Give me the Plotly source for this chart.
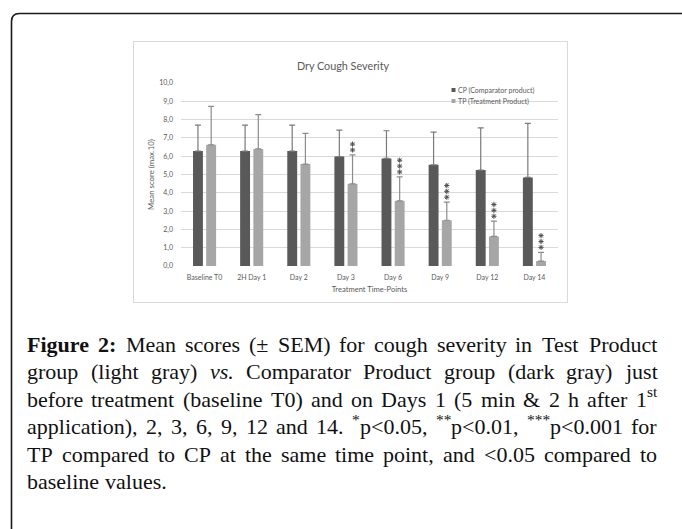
import plotly.graph_objects as go

# ---------------- data ----------------
categories = ["Baseline T0", "2H Day 1", "Day 2", "Day 3", "Day 6", "Day 9", "Day 12", "Day 14"]
cp_mean = [6.28, 6.28, 6.28, 5.98, 5.88, 5.53, 5.24, 4.84]
cp_sem = [1.42, 1.42, 1.42, 1.45, 1.51, 1.79, 2.31, 2.95]
tp_mean = [6.62, 6.40, 5.57, 4.49, 3.56, 2.50, 1.62, 0.27]
tp_sem = [2.10, 1.87, 1.68, 1.58, 1.31, 0.99, 0.83, 0.48]
tp_stars = [0, 0, 0, 2, 3, 3, 3, 3]
y_ticks = [0, 1, 2, 3, 4, 5, 6, 7, 8, 9, 10]
cp_name = "CP (Comparator product)"
tp_name = "TP (Treatment Product)"
chart_title = "Dry Cough Severity"
y_title = "Mean score (max.10)"
x_title = "Treatment Time-Points"

# ---------------- layout geometry (pixels) ----------------
W, H = 682, 529
L, R, T, B = 181, 124, 83, 263
PW, PH = W - L - R, H - T - B


def X(px):
    return (px - L) / PW


def Y(py):
    return (H - B - py) / PH


CP_COL, TP_COL = "#595959", "#a6a6a6"
TXT = "#595959"
CH_FONT = "Lato, 'Open Sans', sans-serif"

bar_w = 0.21
gap = 0.07
idx = list(range(len(categories)))

fig = go.Figure()
fig.add_trace(go.Bar(
    x=idx, y=cp_mean, name=cp_name, width=bar_w, offset=-gap / 2 - bar_w,
    marker=dict(color=CP_COL, line=dict(width=0)),
    error_y=dict(type="data", array=cp_sem, arrayminus=[0] * len(cp_sem), symmetric=False,
                 color="#7a7a7a", thickness=1.2, width=3),
    showlegend=False,
))
fig.add_trace(go.Bar(
    x=idx, y=tp_mean, name=tp_name, width=bar_w, offset=gap / 2,
    marker=dict(color=TP_COL, line=dict(width=0)),
    error_y=dict(type="data", array=tp_sem, arrayminus=[0] * len(tp_sem), symmetric=False,
                 color="#8c8c8c", thickness=1.2, width=3),
    showlegend=False,
))

# significance asterisks above TP error bars
sx, sy = [], []
tp_center = gap / 2 + bar_w / 2
for i, n in enumerate(tp_stars):
    top = tp_mean[i] + tp_sem[i]
    for k in range(n):
        sx.append(i + tp_center)
        sy.append(top + 0.27 + 0.32 * k)
fig.add_trace(go.Scatter(
    x=sx, y=sy, mode="markers", showlegend=False, hoverinfo="skip",
    marker=dict(symbol="asterisk-open", size=4.3, color="#505050",
                line=dict(color="#505050", width=1)),
))

shapes = []
annotations = []

# outer rounded frame (page box)
r = 8
x0, y0 = 11.5, 13.5
path = (f"M {X(x0)},{Y(H + 20)} L {X(x0)},{Y(y0 + r)} "
        f"Q {X(x0)},{Y(y0)} {X(x0 + r)},{Y(y0)} L {X(W + 20)},{Y(y0)}")
shapes.append(dict(type="path", xref="paper", yref="paper", path=path,
                   line=dict(color="#1a1a1a", width=1.6)))

# chart box
shapes.append(dict(type="rect", xref="paper", yref="paper",
                   x0=X(133.5), x1=X(567.5), y0=Y(302.5), y1=Y(41.5),
                   line=dict(color="#d9d9d9", width=1)))

# custom legend
for j, (nm, col) in enumerate([(cp_name, CP_COL), (tp_name, TP_COL)]):
    cy = 90 + 11 * j
    shapes.append(dict(type="rect", xref="paper", yref="paper",
                       x0=X(451.5), x1=X(455.5), y0=Y(cy + 2), y1=Y(cy - 2),
                       fillcolor=col, line=dict(width=0)))
    annotations.append(dict(xref="paper", yref="paper", x=X(456), y=Y(cy), text=nm,
                            xanchor="left", yanchor="middle", showarrow=False,
                            font=dict(family=CH_FONT, size=7, color=TXT)))

# ---------------- caption (justified) ----------------
REG = {' ': 250, '(': 333, ')': 333, '*': 500, ',': 250, '.': 250, ':': 278, '<': 564, '&': 778,
       '±': 564, 'A': 722, 'C': 667, 'D': 722, 'E': 611, 'F': 556, 'M': 889, 'P': 556, 'S': 556,
       'T': 611, 'a': 444, 'b': 500, 'c': 444, 'd': 500, 'e': 444, 'f': 333, 'g': 500, 'h': 500,
       'i': 278, 'j': 278, 'k': 500, 'l': 278, 'm': 778, 'n': 500, 'o': 500, 'p': 500, 'q': 500,
       'r': 333, 's': 389, 't': 278, 'u': 500, 'v': 500, 'w': 722, 'x': 500, 'y': 500, 'z': 444}
for d in "0123456789":
    REG[d] = 500
BOLD = dict(REG)
BOLD.update({'F': 611, 'i': 278, 'g': 500, 'u': 556, 'r': 444, 'e': 444, '2': 500, ':': 333})
ITAL = dict(REG)
ITAL.update({'v': 444, 's': 389, '.': 250})

caption_lines = [
    [[("Figure", "b")], [("2:", "b")], [("Mean", "r")], [("scores", "r")], [("(±", "r")],
     [("SEM)", "r")], [("for", "r")], [("cough", "r")], [("severity", "r")], [("in", "r")],
     [("Test", "r")], [("Product", "r")]],
    [[("group", "r")], [("(light", "r")], [("gray)", "r")], [("vs.", "i")], [("Comparator", "r")],
     [("Product", "r")], [("group", "r")], [("(dark", "r")], [("gray)", "r")], [("just", "r")]],
    [[("before", "r")], [("treatment", "r")], [("(baseline", "r")], [("T0)", "r")], [("and", "r")],
     [("on", "r")], [("Days", "r")], [("1", "r")], [("(5", "r")], [("min", "r")], [("&", "r")],
     [("2", "r")], [("h", "r")], [("after", "r")], [("1", "r"), ("st", "sup")]],
    [[("application),", "r")], [("2,", "r")], [("3,", "r")], [("6,", "r")], [("9,", "r")],
     [("12", "r")], [("and", "r")], [("14.", "r")], [("*", "sup"), ("p<0.05,", "r")],
     [("**", "sup"), ("p<0.01,", "r")], [("***", "sup"), ("p<0.001", "r")], [("for", "r")]],
    [[("TP", "r")], [("compared", "r")], [("to", "r")], [("CP", "r")], [("at", "r")], [("the", "r")],
     [("same", "r")], [("time", "r")], [("point,", "r")], [("and", "r")], [("<0.05", "r")],
     [("compared", "r")], [("to", "r")]],
    [[("baseline", "r")], [("values.", "r")]],
]

FS = 22
SUP = 0.7
CAP_FONT = "'Liberation Serif', 'Times New Roman', serif"
left_px, right_px = 27, 657
line_y = [344, 371.5, 399, 426.5, 454, 481.5]


def esc(s):
    return s.replace("&", "&amp;").replace("<", "&lt;").replace(">", "&gt;")


def seg_html(t, st):
    t = esc(t)
    if st == "b":
        return f"<b>{t}</b>"
    if st == "i":
        return f"<i>{t}</i>"
    return t


def seg_width(t, st):
    tab = BOLD if st == "b" else ITAL if st == "i" else REG
    f = SUP if st == "sup" else 1.0
    return sum(tab.get(c, 500) for c in t) / 1000 * FS * f


for li, words in enumerate(caption_lines):
    widths = [sum(seg_width(t, s) for t, s in w) for w in words]
    last = li == len(caption_lines) - 1
    if last:
        g = REG[' '] / 1000 * FS
    else:
        g = (right_px - left_px - sum(widths)) / (len(words) - 1)
    xpos = left_px
    for w, wd in zip(words, widths):
        sxp = xpos
        for t, s in w:
            is_sup = s == "sup"
            annotations.append(dict(
                xref="paper", yref="paper", x=X(sxp),
                y=Y(line_y[li] - (7.5 if is_sup else 0)),
                text=seg_html(t, s), xanchor="left", yanchor="middle", showarrow=False,
                borderpad=0, borderwidth=0,
                font=dict(family=CAP_FONT, size=FS * (SUP if is_sup else 1), color="#111111")))
            sxp += seg_width(t, s)
        xpos += wd + g

fig.update_layout(
    width=W, height=H,
    margin=dict(l=L, r=R, t=T, b=B, pad=0),
    paper_bgcolor="white", plot_bgcolor="white",
    separators=", ",
    barmode="overlay",
    showlegend=False,
    title=dict(text=chart_title, x=343 / W, y=1 - 66 / H, xref="container", yref="container",
               xanchor="center", yanchor="middle",
               font=dict(family=CH_FONT, size=10.8, color=TXT)),
    shapes=shapes,
    annotations=annotations,
    xaxis=dict(range=[-0.5, len(categories) - 0.5], tickmode="array", tickvals=idx,
               ticktext=categories, showgrid=False, zeroline=False, showline=False,
               ticks="", tickfont=dict(family=CH_FONT, size=7, color=TXT),
               ticklabelstandoff=6, fixedrange=True, automargin=False,
               title=dict(text=x_title, standoff=6,
                          font=dict(family=CH_FONT, size=7.6, color=TXT))),
    yaxis=dict(range=[0, 10], tickmode="array", tickvals=y_ticks, tickformat=".1f",
               showgrid=True, gridcolor="#d9d9d9", gridwidth=1, zeroline=False,
               showline=False, ticks="", tickfont=dict(family=CH_FONT, size=7, color=TXT),
               ticklabelstandoff=7, fixedrange=True, automargin=False,
               title=dict(text=y_title, standoff=3,
                          font=dict(family=CH_FONT, size=7.8, color=TXT))),
)

fig.write_html("out.html", config={"displayModeBar": False},
               post_script="document.body.style.margin='0';document.body.style.overflow='hidden';")
